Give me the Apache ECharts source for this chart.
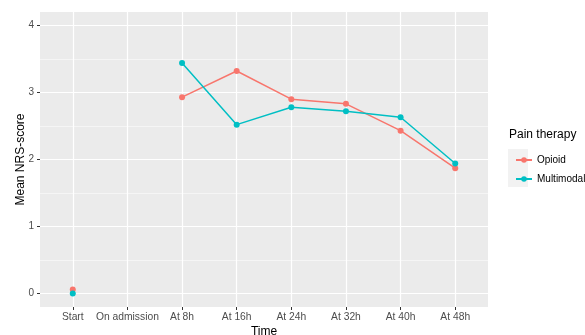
<!DOCTYPE html>
<html><head><meta charset="utf-8">
<script src="https://cdn.jsdelivr.net/npm/echarts@6/dist/echarts.min.js"></script>
<style>html,body{margin:0;padding:0;background:#fff}#c{width:585px;height:335px}</style>
</head><body><div id="c"></div>
<script>
var categories = ['Start','On admission','At 8h','At 16h','At 24h','At 32h','At 40h','At 48h'];
var opioid = [0.06, null, 2.93, 3.32, 2.90, 2.83, 2.43, 1.87];
var multimodal = [0.0, null, 3.44, 2.52, 2.78, 2.72, 2.63, 1.94];
var yTicks = [0, 1, 2, 3, 4];
var yMinor = [0.5, 1.5, 2.5, 3.5];
var seriesNames = ['Opioid', 'Multimodal'];

var FONT = 'Liberation Sans, Arial, sans-serif';
var xIdx = categories.map(function(_, i){ return i; });
function pairs(arr){ return arr.map(function(v, i){ return [i, v]; }); }

var chart = echarts.init(document.getElementById('c'), null, {renderer:'canvas'});
chart.setOption({
  animation: false,
  backgroundColor: '#fff',
  grid: {left: 40, top: 12, width: 448, height: 295, show: true, backgroundColor: '#EBEBEB', borderWidth: 0,
    containLabel: false, outerBoundsMode: 'none'},
  xAxis: {
    type: 'value', min: -0.6, max: 7.6,
    name: 'Time', nameLocation: 'middle', nameGap: 19, nameMoveOverlap: false,
    nameTextStyle: {fontFamily: FONT, fontSize: 12, color: '#000'},
    axisLine: {show: false, onZero: false},
    axisTick: {show: true, length: 3, customValues: xIdx, lineStyle: {color: '#333', width: 1}},
    axisLabel: {customValues: xIdx, margin: 5, fontFamily: FONT, fontSize: 10.3, color: '#4D4D4D',
      formatter: function(v){ return categories[Math.round(v)] || ''; }},
    splitLine: {show: true, lineStyle: {color: '#fff', width: 1.2}}
  },
  yAxis: [{
    type: 'value', min: -0.2, max: 4.2,
    name: 'Mean NRS-score', nameLocation: 'middle', nameGap: 13, nameMoveOverlap: false,
    nameTextStyle: {fontFamily: FONT, fontSize: 12, color: '#000'},
    axisLine: {show: false, onZero: false},
    axisTick: {show: true, length: 3, customValues: yTicks, lineStyle: {color: '#333', width: 1}},
    axisLabel: {customValues: yTicks, margin: 6, fontFamily: FONT, fontSize: 10, color: '#4D4D4D'},
    splitLine: {show: true, lineStyle: {color: '#fff', width: 1.2}}
  }, {
    type: 'value', min: -0.2, max: 4.2, position: 'left',
    axisLine: {show: false, onZero: false},
    axisTick: {show: false, customValues: yMinor},
    axisLabel: {show: false, customValues: yMinor},
    splitLine: {show: true, lineStyle: {color: '#F8F8F8', width: 0.8}}
  }],
  legend: {
    orient: 'vertical', left: 510, top: 150,
    itemWidth: 16, itemHeight: 7, itemGap: 9,
    textStyle: {fontFamily: FONT, fontSize: 10, color: '#000'},
    data: seriesNames
  },
  graphic: [
    {type: 'rect', left: 508, top: 149, z: -1, shape: {width: 20, height: 38}, style: {fill: '#F2F2F2'}},
    {type: 'text', left: 509, top: 129, style: {text: 'Pain therapy', font: '12px ' + FONT, fill: '#000'}}
  ],
  series: [{
    name: seriesNames[0], type: 'line', yAxisIndex: 0, data: pairs(opioid),
    symbol: 'circle', symbolSize: 6, showSymbol: true,
    itemStyle: {color: '#F8766D'}, lineStyle: {color: '#F8766D', width: 1.5}
  }, {
    name: seriesNames[1], type: 'line', yAxisIndex: 0, data: pairs(multimodal),
    symbol: 'circle', symbolSize: 6, showSymbol: true,
    itemStyle: {color: '#00BFC4'}, lineStyle: {color: '#00BFC4', width: 1.5}
  }]
});
</script></body></html>
